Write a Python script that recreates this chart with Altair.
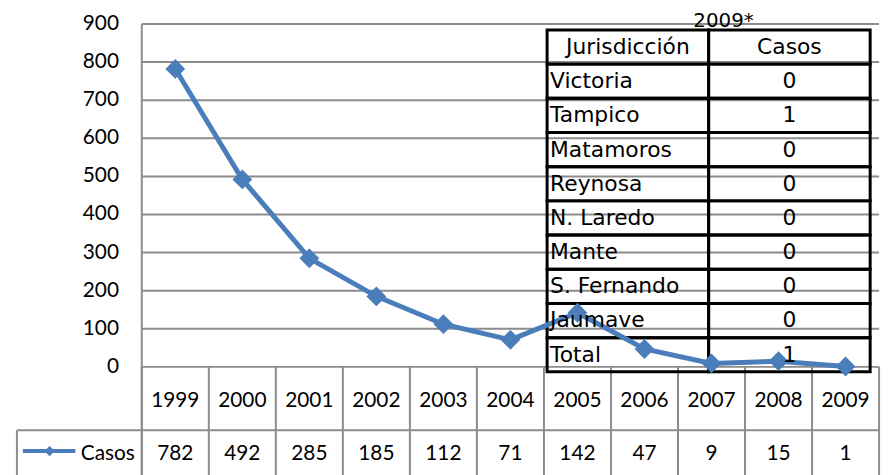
import altair as alt
import pandas as pd

# ---- data ----
years = ["1999", "2000", "2001", "2002", "2003", "2004", "2005", "2006", "2007", "2008", "2009"]
casos = [782, 492, 285, 185, 112, 71, 142, 47, 9, 15, 1]
y_ticks = [0, 100, 200, 300, 400, 500, 600, 700, 800, 900]
series_name = "Casos"

table_title = "2009*"
table_header = ["Jurisdicción", "Casos"]
jurisdicciones = ["Victoria", "Tampico", "Matamoros", "Reynosa", "N. Laredo",
                  "Mante", "S. Fernando", "Jaumave"]
casos_2009 = [0, 1, 0, 0, 0, 0, 0, 0]
total_label = "Total"
total_2009 = 1

# ---- style / layout ----
W, H = 744, 346
BLUE = "#4a7ebb"
GRID = "#8c8c8c"
AX_FONT = "Lato"
TB_FONT = "DejaVu Sans"
# embedded table frame (pixels inside the plot area)
TX0, TXM, TX1 = 409, 572, 735
TY0, ROW_H = 6, 34.5

df = pd.DataFrame({"year": years, "casos": casos})
ticks_df = pd.DataFrame({"tick": y_ticks})

xs = alt.Scale(type="band", domain=years, paddingInner=0, paddingOuter=0)
ys = alt.Scale(domain=[0, 900], nice=False, zero=True)

# value axis drawn from the tick list through the y scale
grid = alt.Chart(ticks_df).mark_rule(color=GRID, strokeWidth=2).encode(
    y=alt.Y("tick:Q", scale=ys, axis=None), x=alt.value(0), x2=alt.value(W))
ylabels = alt.Chart(ticks_df).mark_text(font=AX_FONT, fontSize=21, color="black",
                                        align="right", baseline="middle").encode(
    y=alt.Y("tick:Q", scale=ys, axis=None), x=alt.value(-23), text="tick:Q")

# category table boundaries drawn from the years through the x scale
col_lines = alt.Chart(df).mark_rule(color=GRID, strokeWidth=2).encode(
    x=alt.X("year:O", scale=xs, bandPosition=0, axis=None),
    y=alt.value(H), y2=alt.value(480))

one = pd.DataFrame({"label": [series_name]})
y_axis_line = alt.Chart(one).mark_rule(color=GRID, strokeWidth=2).encode(
    x=alt.value(0), y=alt.value(0), y2=alt.value(480))
right_line = alt.Chart(one).mark_rule(color=GRID, strokeWidth=2).encode(
    x=alt.value(W), y=alt.value(H), y2=alt.value(480))
row_line = alt.Chart(one).mark_rule(color=GRID, strokeWidth=2).encode(
    x=alt.value(-126), x2=alt.value(W), y=alt.value(410))
box_left = alt.Chart(one).mark_rule(color=GRID, strokeWidth=2).encode(
    x=alt.value(-126), y=alt.value(410), y2=alt.value(480))

line = alt.Chart(df).mark_line(color=BLUE, strokeWidth=5).encode(
    x=alt.X("year:O", scale=xs, bandPosition=0.5, axis=None),
    y=alt.Y("casos:Q", scale=ys, axis=None),
)
points = alt.Chart(df).mark_point(shape="diamond", filled=True, size=400,
                                  color=BLUE, opacity=1).encode(
    x=alt.X("year:O", scale=xs, bandPosition=0.5, axis=None),
    y=alt.Y("casos:Q", scale=ys, axis=None),
)

year_text = alt.Chart(df).mark_text(font=AX_FONT, fontSize=21, color="black").encode(
    x=alt.X("year:O", scale=xs, bandPosition=0.5, axis=None),
    y=alt.value(380),
    text="year:N",
)
value_text = alt.Chart(df).mark_text(font=AX_FONT, fontSize=21, color="black").encode(
    x=alt.X("year:O", scale=xs, bandPosition=0.5, axis=None),
    y=alt.value(434),
    text="casos:Q",
)

leg_line = alt.Chart(one).mark_rule(color=BLUE, strokeWidth=4).encode(
    x=alt.value(-120), x2=alt.value(-67), y=alt.value(431))
leg_pt = alt.Chart(one).mark_point(shape="diamond", filled=True, size=110,
                                   color=BLUE, opacity=1).encode(
    x=alt.value(-93), y=alt.value(431))
leg_txt = alt.Chart(one).mark_text(font=AX_FONT, fontSize=21, align="right",
                                   color="black").encode(
    x=alt.value(-7), y=alt.value(434), text="label:N")

# ---- embedded table ----
names = [table_header[0]] + jurisdicciones + [total_label]
vals = [table_header[1]] + [str(v) for v in casos_2009] + [str(total_2009)]
n_rows = len(names)
tab = pd.DataFrame({"row": list(range(n_rows)), "name": names, "val": vals})
cells = pd.DataFrame({"row": [r for r in range(n_rows) for _ in (0, 1)],
                      "col": [c for _ in range(n_rows) for c in (0, 1)]})

tab_rects = alt.Chart(cells).transform_calculate(
    cx0=f"datum.col == 0 ? {TX0} : {TXM}",
    cx1=f"datum.col == 0 ? {TXM} : {TX1}",
    cy0=f"{TY0} + datum.row * {ROW_H}",
    cy1=f"{TY0} + (datum.row + 1) * {ROW_H}",
).mark_rect(fillOpacity=0, stroke="black", strokeWidth=3).encode(
    x=alt.X("cx0:Q", scale=None, axis=None), x2="cx1:Q",
    y=alt.Y("cy0:Q", scale=None, axis=None), y2="cy1:Q",
)
tab_base = alt.Chart(tab).transform_calculate(
    cy=f"{TY0} + (datum.row + 0.5) * {ROW_H}",
    xl=f"datum.row == 0 ? {(TX0 + TXM) / 2} : {TX0 + 3}",
    xr=f"{(TXM + TX1) / 2}",
)
tab_names = tab_base.transform_filter("datum.row > 0").mark_text(
    font=TB_FONT, fontSize=22, color="black", align="left").encode(
    x=alt.X("xl:Q", scale=None, axis=None), y=alt.Y("cy:Q", scale=None, axis=None),
    text="name:N")
tab_head = tab_base.transform_filter("datum.row == 0").mark_text(
    font=TB_FONT, fontSize=22, color="black", align="center").encode(
    x=alt.X("xl:Q", scale=None, axis=None), y=alt.Y("cy:Q", scale=None, axis=None),
    text="name:N")
tab_vals = tab_base.mark_text(font=TB_FONT, fontSize=22, color="black").encode(
    x=alt.X("xr:Q", scale=None, axis=None), y=alt.Y("cy:Q", scale=None, axis=None),
    text="val:N")
tab_title = alt.Chart(pd.DataFrame({"t": [table_title]})).mark_text(
    font=TB_FONT, fontSize=20, color="black").encode(
    x=alt.value(587), y=alt.value(-3), text="t:N")

chart = alt.layer(
    grid, ylabels, col_lines, y_axis_line, right_line, row_line, box_left,
    tab_rects, line, points, year_text, value_text,
    leg_line, leg_pt, leg_txt, tab_head, tab_names, tab_vals, tab_title
).properties(
    width=W, height=H,
    autosize=alt.AutoSizeParams(type="none"),
    padding={"left": 135, "top": 14, "right": 8, "bottom": 110},
).configure_view(stroke=None)

chart.save("out.html", embed_options={"renderer": "svg", "actions": False})
